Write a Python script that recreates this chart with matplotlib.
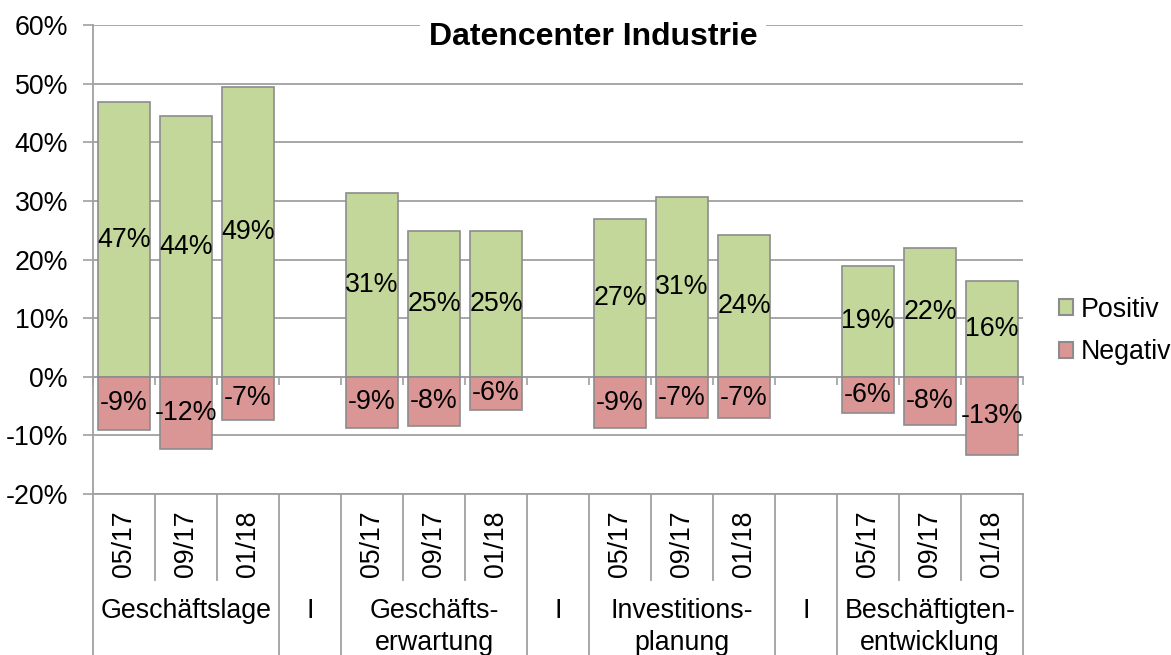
import matplotlib
matplotlib.use("Agg")
import matplotlib.pyplot as plt
from matplotlib.patches import Patch
from matplotlib.transforms import blended_transform_factory
from matplotlib.ticker import FuncFormatter

plt.rcParams['font.family'] = ['Liberation Sans', 'DejaVu Sans']
plt.rcParams['axes.unicode_minus'] = False

title = "Datencenter Industrie"
groups = ["Geschäftslage", "Geschäfts-\nerwartung", "Investitions-\nplanung", "Beschäftigten-\nentwicklung"]
periods = ["05/17", "09/17", "01/18"]
separator = "I"
positive = [46.8, 44.4, 49.4, 31.4, 24.9, 24.9, 26.9, 30.6, 24.1, 18.9, 22.0, 16.4]
negative = [-9.0, -12.3, -7.3, -8.7, -8.4, -5.7, -8.8, -7.1, -7.1, -6.2, -8.3, -13.4]
series_names = ["Positiv", "Negativ"]
yticks = [-20, -10, 0, 10, 20, 30, 40, 50, 60]

GREEN = "#C4D79B"
RED = "#DA9694"
EDGE = "#8C8C8C"
GRID = "#A0A0A0"
FS = 19.3

W, H = 1171, 655
fig = plt.figure(figsize=(W / 100, H / 100), dpi=100)
ax = fig.add_axes([93 / W, 1 - 494 / H, (1023 - 93) / W, (494 - 25) / H])

n_slots = len(groups) * 4 - 1
xs = []
for g in range(len(groups)):
    for p in range(len(periods)):
        xs.append(g * 4 + p + 0.5)

bw = 0.84
ax.bar(xs, positive, width=bw, color=GREEN, edgecolor=EDGE, linewidth=1.2, zorder=3)
ax.bar(xs, negative, width=bw, color=RED, edgecolor=EDGE, linewidth=1.2, zorder=3)

for x, v in zip(xs, positive):
    ax.text(x, v / 2, f"{round(v)}%", ha="center", va="center", fontsize=FS, zorder=4)
for x, v in zip(xs, negative):
    ax.text(x, v / 2, f"{round(v)}%", ha="center", va="center", fontsize=FS, zorder=4)

ax.set_xlim(0, n_slots)
ax.set_ylim(-20, 60)
ax.set_yticks(yticks)
ax.yaxis.set_major_formatter(FuncFormatter(lambda v, _: f"{int(v)}%"))
ax.tick_params(axis="y", labelsize=FS, length=7, width=1.2, color=GRID, pad=11)
ax.grid(axis="y", color=GRID, linewidth=1.3, zorder=0)
ax.set_axisbelow(True)

# x-axis at zero with small ticks at slot boundaries
ax.spines["bottom"].set_position(("data", 0))
ax.spines["bottom"].set_color(GRID)
ax.spines["bottom"].set_linewidth(1.3)
ax.set_xticks(range(0, n_slots + 1))
ax.tick_params(axis="x", direction="out", length=6, width=1.2, color=GRID, labelbottom=False)
ax.spines["top"].set_visible(False)
ax.spines["right"].set_visible(False)
ax.spines["left"].set_color(GRID)
ax.spines["left"].set_linewidth(1.3)

# category table below the plot
tr = blended_transform_factory(ax.transData, fig.transFigure)
y_top = 1 - 494 / H
y_short = 1 - 580 / H
for b in range(0, n_slots + 1):
    full = (b % 4 == 0) or (b % 4 == 3)
    ax.plot([b, b], [y_top, 0 if full else y_short], transform=tr, color=GRID,
            linewidth=1.3, clip_on=False)
ax.plot([0, n_slots], [y_top, y_top], transform=tr, color=GRID, linewidth=1.3, clip_on=False)

for g, name in enumerate(groups):
    for p, per in enumerate(periods):
        ax.text(g * 4 + p + 0.5, 1 - 544 / H, per, rotation=90, ha="center", va="center",
                fontsize=FS, transform=tr)
    ax.text(g * 4 + 1.5, 1 - 598 / H, name, ha="center", va="top", fontsize=FS,
            transform=tr, linespacing=1.32)
    if g < len(groups) - 1:
        ax.text(g * 4 + 3.5, 1 - 598 / H, separator, ha="center", va="top", fontsize=FS,
                transform=tr)

fig.text(593 / W, 1 - 37 / H, title, ha="center", va="center", fontsize=23,
         fontweight="bold", bbox=dict(facecolor="white", edgecolor="none", pad=6))

handles = [Patch(facecolor=GREEN, edgecolor=EDGE, linewidth=1.5),
           Patch(facecolor=RED, edgecolor=EDGE, linewidth=1.5)]
fig.legend(handles, series_names, loc="center left", bbox_to_anchor=(1059 / W, 1 - 331 / H),
           bbox_transform=fig.transFigure, frameon=False, fontsize=FS, handlelength=0.52,
           handleheight=0.52, handletextpad=0.3, labelspacing=0.62, borderpad=0, borderaxespad=0)

fig.savefig("out.png", dpi=100)
